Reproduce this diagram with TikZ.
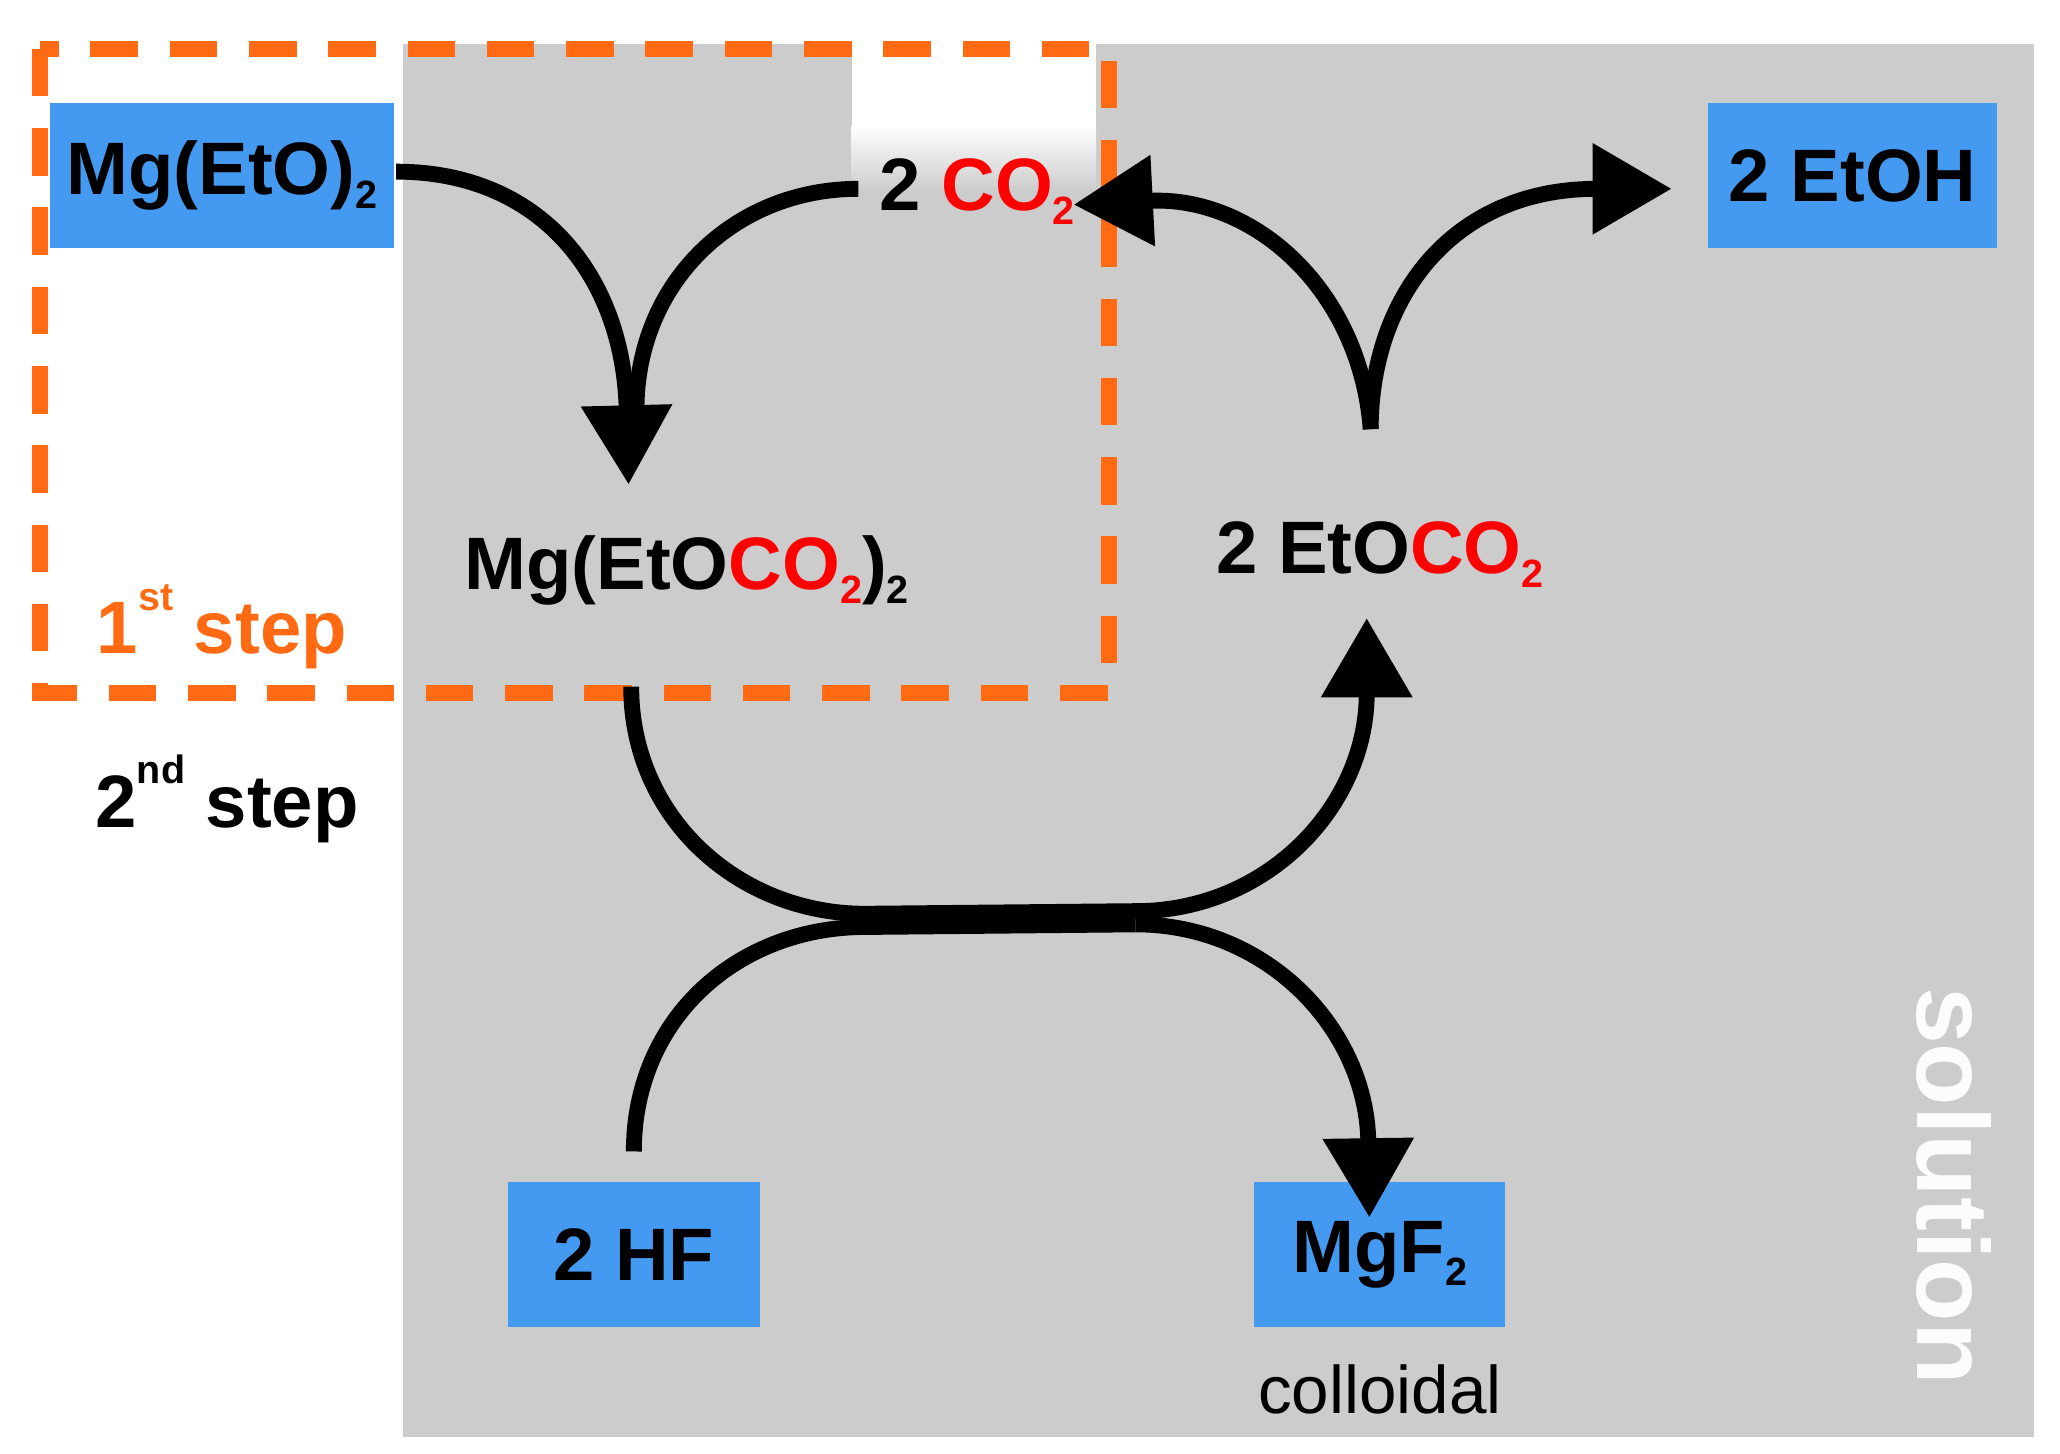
\documentclass[tikz,border=0pt]{standalone}
\usepackage{fontspec}
\setmainfont{Liberation Sans}
\usetikzlibrary{arrows.meta}
\definecolor{bg}{HTML}{CCCCCC}
\definecolor{box}{HTML}{4499F0}
\definecolor{org}{HTML}{FF6A13}
\definecolor{rd}{HTML}{FF0000}
\newcommand{\chs}[1]{\raisebox{-0.35ex}{\fontsize{8.5}{8.5}\selectfont #1}}
\newcommand{\chp}[1]{\raisebox{1.1ex}{\fontsize{8.5}{8.5}\selectfont #1}}
\begin{document}
\begin{tikzpicture}[x=0.01cm,y=-0.01cm,
  lbl/.style={font=\fontsize{16}{16}\selectfont\bfseries,inner sep=0},
  bx/.style={fill=box,minimum width=#1,minimum height=110*0.01cm,inner sep=0,font=\fontsize{16}{16}\selectfont\bfseries},
  arr/.style={line width=0.12cm,-{Triangle[length=0.6cm,width=0.66cm]}},
  ln/.style={line width=0.12cm}]
\useasboundingbox (0,0) rectangle (1560,1101);
\fill[bg] (305,33) rectangle (1540,1088);
\fill[white] (645,33) rectangle (830,95);
\shade[top color=white,bottom color=bg] (645,95) rectangle (830,145);
\draw[org,line width=0.12cm,dash pattern=on 0.36cm off 0.24cm] (30,37) rectangle (840,525);
\node[bx=2.6cm] (a) at (168,133) {Mg(EtO)\chs{2}};
\node[bx=2.19cm] (e) at (1403,133) {2 EtOH};
\node[bx=1.91cm] (h) at (480,950) {2 HF};
\node[bx=1.9cm] (m) at (1045,950) {MgF\chs{2}};
\node[font=\fontsize{14.5}{14.5}\selectfont] (col) at (1045,1052) {colloidal};
\node[lbl] (c) at (740,145) {2 \textcolor{rd}{CO\chs{2}}};
\node[lbl] (mc) at (520,432) {Mg(EtO\textcolor{rd}{CO\chs{2}})\chs{2}};
\node[lbl] (ec) at (1045,420) {2 EtO\textcolor{rd}{CO\chs{2}}};
\node[lbl,text=org] (s1) at (168,475) {1\chp{st} step};
\node[lbl] (s2) at (172,605) {2\chp{nd} step};
\node[font=\fontsize{22}{22}\selectfont\bfseries,text=white!95!bg,rotate=-90] (sol) at (1480,898) {solution};
\coordinate (p1) at (300,130);
\coordinate (p2) at (650,143);
\coordinate (t1) at (476,367);
\coordinate (q0) at (1038,325);
\coordinate (tr) at (1266,143);
\coordinate (tl) at (813,155);
\draw[arr] (p1) .. controls (410,130) and (472,210) .. (t1);
\draw[ln] (p2) .. controls (555,143) and (482,215) .. (482,310);
\draw[arr] (q0) .. controls (1038,225) and (1100,143) .. (tr);
\draw[arr] (q0) .. controls (1030,220) and (950,148) .. (tl);
\coordinate (b0) at (478,520);
\coordinate (m1) at (655,692);
\coordinate (m2) at (860,690);
\coordinate (tu) at (1035,468);
\draw[arr] (b0) .. controls (478,620) and (560,692) .. (m1) -- (m2) .. controls (960,690) and (1035,610) .. (tu);
\coordinate (c0) at (480,872);
\coordinate (n1) at (655,702);
\coordinate (n2) at (860,700);
\coordinate (td) at (1037,922);
\draw[ln] (c0) .. controls (480,770) and (560,702) .. (n1) -- (n2);
\draw[arr] (n2) .. controls (960,700) and (1035,780) .. (td);
\end{tikzpicture}
\end{document}
